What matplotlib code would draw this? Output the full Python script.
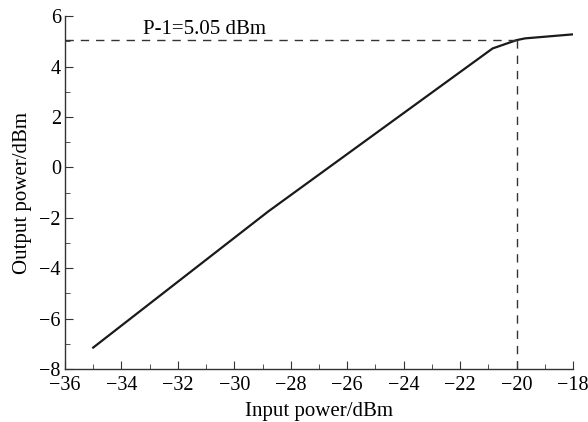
import matplotlib
matplotlib.use("Agg")
import matplotlib.pyplot as plt
from matplotlib.ticker import MultipleLocator

plt.rcParams['font.family'] = ['Liberation Serif', 'DejaVu Serif']

# input / output power curve (dBm)
p_in = [-35, -28.8, -20.85, -20, -19.7, -18]
p_out = [-7.15, -1.75, 4.72, 5.05, 5.12, 5.28]

# 1 dB compression point
p1_in = -20
p1_out = 5.05

fig = plt.figure(figsize=(5.88, 4.22), dpi=100)
ax = fig.add_axes([0.1105, 0.1256, 0.864, 0.836])

ax.plot(p_in, p_out, color='#1a1a1a', lw=1.6)
ax.plot([-36, p1_in], [p1_out, p1_out], color='#333333', lw=1.0, ls=(0, (6, 5)))
ax.plot([p1_in, p1_in], [-8, p1_out], color='#333333', lw=1.0, ls=(0, (6, 5)))
ax.text(-33.25, 5.3, 'P-1=5.05 dBm', fontsize=15, va='baseline', ha='left')

ax.set_xlim(-36, -18)
ax.set_ylim(-8, 6)
ax.xaxis.set_major_locator(MultipleLocator(2))
ax.xaxis.set_minor_locator(MultipleLocator(1))
ax.yaxis.set_major_locator(MultipleLocator(2))
ax.yaxis.set_minor_locator(MultipleLocator(1))
ax.set_xticklabels([f'\u2212{abs(int(v))}' for v in ax.get_xticks()])
ax.set_yticklabels([f'\u2212{abs(int(v))}' if v < 0 else f'{int(v)}' for v in ax.get_yticks()])

ax.tick_params(which='both', direction='in', labelsize=14.5, color='#333333')
ax.tick_params(which='major', length=6)
ax.tick_params(which='minor', length=3.5)
ax.tick_params(axis='x', pad=5)
ax.tick_params(axis='y', pad=3)

for s in ['top', 'right']:
    ax.spines[s].set_visible(False)
for s in ['left', 'bottom']:
    ax.spines[s].set_linewidth(1.0)
    ax.spines[s].set_color('#333333')

ax.set_xlabel('Input power/dBm', fontsize=15, labelpad=5)
ax.set_ylabel('Output power/dBm', fontsize=15, labelpad=5)

fig.savefig('out.png', dpi=100)
